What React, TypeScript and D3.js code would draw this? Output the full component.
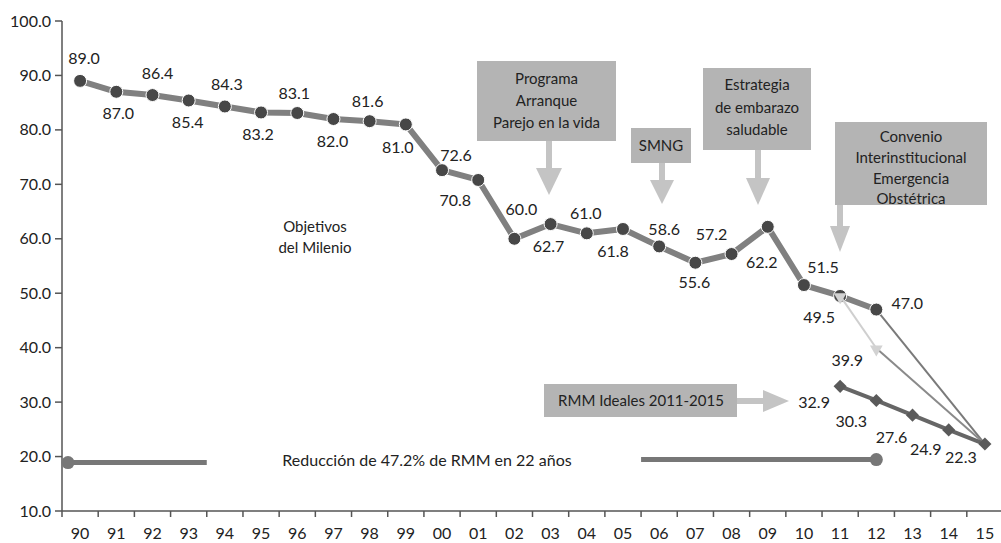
import * as d3 from "d3";
import React, { useEffect, useRef } from "react";

// categories (years 1990-2015)
const years = [
  "90", "91", "92", "93", "94", "95", "96", "97", "98", "99", "00", "01", "02",
  "03", "04", "05", "06", "07", "08", "09", "10", "11", "12", "13", "14", "15",
];
const yTicks = [10, 20, 30, 40, 50, 60, 70, 80, 90, 100];

// observed RMM 1990-2012
const rmmYears = years.slice(0, 23);
const rmmValues = [
  89.0, 87.0, 86.4, 85.4, 84.3, 83.2, 83.1, 82.0, 81.6, 81.0, 72.6, 70.8, 60.0,
  62.7, 61.0, 61.8, 58.6, 55.6, 57.2, 62.2, 51.5, 49.5, 47.0,
];

// ideal RMM 2011-2015
const idealYears = ["11", "12", "13", "14", "15"];
const idealValues = [32.9, 30.3, 27.6, 24.9, 22.3];

// projections to 2015
const trendYears = ["12", "15"];
const trendValues = [47.0, 22.3];
const altYears = ["11", "12"];
const altValues = [49.5, 39.9];
const altTailYears = ["12", "15"];
const altTailValues = [39.9, 22.3];

// label nudges (dx, dy) for the observed series
const rmmLabelOffsets: [number, number][] = [
  [4, -22], [2, 22], [5, -22], [-1, 22], [2, -22], [-3, 22], [-3, -20],
  [-1, 22], [-2, -20], [-8, 23], [14, -15], [-23, 20], [7, -29], [-2, 22],
  [-1, -20], [-10, 22], [5, -17], [-1, 20], [-20, -20], [-6, 36], [19, -18],
  [-21, 21], [31, -6],
];
const idealLabelOffsets: [number, number][] = [
  [-26, 16], [-25, 21], [-21, 22], [-23, 20], [-24, 13],
];

const FONT = "Lato, 'Open Sans', sans-serif";
const TEXT = "#222";
const BOX = "#b4b4b4";
const ARROW = "#c4c4c4";

type Callout = {
  lines: string[];
  box: [number, number, number, number];
  lineY: number[];
  arrow: { x: number; from: number; headStart: number; tip: number; half: number };
};

const callouts: Callout[] = [
  {
    lines: ["Programa", "Arranque", "Parejo en la vida"],
    box: [477, 61, 616, 141],
    lineY: [79, 101, 123],
    arrow: { x: 549, from: 141, headStart: 168, tip: 195, half: 13 },
  },
  {
    lines: ["SMNG"],
    box: [631, 128, 691, 163],
    lineY: [146],
    arrow: { x: 662, from: 163, headStart: 180, tip: 204, half: 12 },
  },
  {
    lines: ["Estrategia", "de embarazo", "saludable"],
    box: [703, 68, 811, 150],
    lineY: [85, 108, 130],
    arrow: { x: 758, from: 150, headStart: 178, tip: 205, half: 12 },
  },
  {
    lines: ["Convenio", "Interinstitucional", "Emergencia", "Obstétrica"],
    box: [835, 122, 987, 205],
    lineY: [137, 158, 179, 199],
    arrow: { x: 840, from: 205, headStart: 226, tip: 252, half: 10 },
  },
];

const App = () => {
  const svgRef = useRef<SVGSVGElement>(null);

  useEffect(() => {
    const svg = d3.select(svgRef.current);
    svg.selectAll("*").remove();

    const x = d3.scaleBand().domain(years).range([62, 1003]);
    const cx = (yr: string) => (x(yr) as number) + x.bandwidth() / 2;
    const y = d3.scaleLinear().domain([10, 100]).range([511, 21]);
    const [x0] = x.range();

    const root = svg.append("g").style("font-family", FONT);

    // axes
    root.append("line")
      .attr("x1", x0).attr("x2", x0).attr("y1", y(100)).attr("y2", y(10))
      .attr("stroke", "#555").attr("stroke-width", 1.5);
    root.append("line")
      .attr("x1", x0).attr("x2", 1003).attr("y1", y(10)).attr("y2", y(10))
      .attr("stroke", "#555").attr("stroke-width", 1.5);

    root.selectAll(".ytick")
      .data(yTicks)
      .enter()
      .append("line")
      .attr("x1", x0 - 7).attr("x2", x0)
      .attr("y1", (d) => y(d)).attr("y2", (d) => y(d))
      .attr("stroke", "#555").attr("stroke-width", 1.5);
    root.selectAll(".ylab")
      .data(yTicks)
      .enter()
      .append("text")
      .attr("x", x0 - 11)
      .attr("y", (d) => y(d))
      .attr("dy", "0.35em")
      .attr("text-anchor", "end")
      .style("font-size", "16px")
      .style("fill", TEXT)
      .text((d) => d.toFixed(1));

    const bounds = years.map((yr) => x(yr) as number).concat([1003]);
    root.selectAll(".xtick")
      .data(bounds)
      .enter()
      .append("line")
      .attr("x1", (d) => d).attr("x2", (d) => d)
      .attr("y1", y(10)).attr("y2", y(10) + 6)
      .attr("stroke", "#555").attr("stroke-width", 1.5);
    root.selectAll(".xlab")
      .data(years)
      .enter()
      .append("text")
      .attr("x", (d) => cx(d))
      .attr("y", 533)
      .attr("dy", "0.35em")
      .attr("text-anchor", "middle")
      .style("font-size", "16px")
      .style("fill", TEXT)
      .text((d) => d);

    // callouts
    callouts.forEach((c) => {
      const [bx0, by0, bx1, by1] = c.box;
      const a = c.arrow;
      root.append("rect")
        .attr("x", a.x - 3).attr("y", a.from)
        .attr("width", 6).attr("height", a.headStart - a.from + 1)
        .attr("fill", ARROW);
      root.append("path")
        .attr("d", `M${a.x - a.half},${a.headStart}L${a.x + a.half},${a.headStart}L${a.x},${a.tip}Z`)
        .attr("fill", ARROW);
      root.append("rect")
        .attr("x", bx0).attr("y", by0)
        .attr("width", bx1 - bx0).attr("height", by1 - by0)
        .attr("fill", BOX);
      c.lines.forEach((t, i) => {
        root.append("text")
          .attr("x", (bx0 + bx1) / 2)
          .attr("y", c.lineY[i])
          .attr("dy", "0.35em")
          .attr("text-anchor", "middle")
          .style("font-size", "15px")
          .style("fill", TEXT)
          .text(t);
      });
    });

    // RMM ideales box with horizontal arrow
    root.append("rect")
      .attr("x", 737).attr("y", 398).attr("width", 27).attr("height", 6)
      .attr("fill", ARROW);
    root.append("path")
      .attr("d", "M763,390L763,412L789,401Z")
      .attr("fill", ARROW);
    root.append("rect")
      .attr("x", 544).attr("y", 384).attr("width", 193).attr("height", 33)
      .attr("fill", BOX);
    root.append("text")
      .attr("x", 641).attr("y", 401).attr("dy", "0.35em")
      .attr("text-anchor", "middle")
      .style("font-size", "15px")
      .style("fill", TEXT)
      .text("RMM Ideales 2011-2015");

    // free text
    root.append("text")
      .attr("x", 315).attr("y", 227).attr("dy", "0.35em")
      .attr("text-anchor", "middle")
      .style("font-size", "15px").style("fill", TEXT)
      .text("Objetivos");
    root.append("text")
      .attr("x", 315).attr("y", 248).attr("dy", "0.35em")
      .attr("text-anchor", "middle")
      .style("font-size", "15px").style("fill", TEXT)
      .text("del Milenio");

    // reduction bracket
    const redY = y(18.9);
    root.append("line")
      .attr("x1", x0 + 6).attr("x2", x("94") as number)
      .attr("y1", redY).attr("y2", redY)
      .attr("stroke", "#777").attr("stroke-width", 5);
    root.append("circle")
      .attr("cx", x0 + 6).attr("cy", redY).attr("r", 6.5).attr("fill", "#777");
    root.append("line")
      .attr("x1", x("06") as number).attr("x2", cx("12"))
      .attr("y1", redY - 3).attr("y2", redY - 3)
      .attr("stroke", "#777").attr("stroke-width", 5);
    root.append("circle")
      .attr("cx", cx("12")).attr("cy", redY - 3).attr("r", 6.5).attr("fill", "#777");
    root.append("text")
      .attr("x", 427).attr("y", 460).attr("dy", "0.35em")
      .attr("text-anchor", "middle")
      .style("font-size", "16px").style("fill", TEXT)
      .text("Reducción de 47.2% de RMM en 22 años");

    const line = d3.line<[string, number]>()
      .x((d) => cx(d[0]))
      .y((d) => y(d[1]));

    // projections
    root.append("path")
      .datum(d3.zip(trendYears, trendValues) as [string, number][])
      .attr("d", line)
      .attr("fill", "none").attr("stroke", "#7a7a7a").attr("stroke-width", 2);
    root.append("path")
      .datum(d3.zip(altTailYears, altTailValues) as [string, number][])
      .attr("d", line)
      .attr("fill", "none").attr("stroke", "#8a8a8a").attr("stroke-width", 2);

    // ideal series
    const idealData = d3.zip(idealYears, idealValues) as [string, number][];
    root.append("path")
      .datum(idealData)
      .attr("d", line)
      .attr("fill", "none").attr("stroke", "#666").attr("stroke-width", 4);
    root.selectAll(".diamond")
      .data(idealData)
      .enter()
      .append("path")
      .attr("d", d3.symbol().type(d3.symbolDiamond2).size(110)())
      .attr("transform", (d) => `translate(${cx(d[0])},${y(d[1])}) rotate(0)`)
      .attr("fill", "#5a5a5a");
    root.selectAll(".ideal-label")
      .data(idealData)
      .enter()
      .append("text")
      .attr("x", (d, i) => cx(d[0]) + idealLabelOffsets[i][0])
      .attr("y", (d, i) => y(d[1]) + idealLabelOffsets[i][1])
      .attr("dy", "0.35em")
      .attr("text-anchor", "middle")
      .style("font-size", "16px").style("fill", TEXT)
      .text((d) => d[1].toFixed(1));

    // observed series
    const rmmData = d3.zip(rmmYears, rmmValues) as [string, number][];
    root.append("path")
      .datum(rmmData)
      .attr("d", line)
      .attr("fill", "none").attr("stroke", "#808080").attr("stroke-width", 6)
      .attr("stroke-linejoin", "round");
    root.selectAll(".dot")
      .data(rmmData)
      .enter()
      .append("circle")
      .attr("cx", (d) => cx(d[0]))
      .attr("cy", (d) => y(d[1]))
      .attr("r", 6.5)
      .attr("fill", "#474747")
      .attr("stroke", "#fff")
      .attr("stroke-width", 1);
    root.selectAll(".rmm-label")
      .data(rmmData)
      .enter()
      .append("text")
      .attr("x", (d, i) => cx(d[0]) + rmmLabelOffsets[i][0])
      .attr("y", (d, i) => y(d[1]) + rmmLabelOffsets[i][1])
      .attr("dy", "0.35em")
      .attr("text-anchor", "middle")
      .style("font-size", "16px").style("fill", TEXT)
      .text((d) => d[1].toFixed(1));

    // light alternative projection (on top)
    const altData = d3.zip(altYears, altValues) as [string, number][];
    root.append("path")
      .datum(altData)
      .attr("d", line)
      .attr("fill", "none").attr("stroke", "#cfcfcf").attr("stroke-width", 2);
    root.selectAll(".tri")
      .data(altData)
      .enter()
      .append("path")
      .attr("d", d3.symbol().type(d3.symbolTriangle).size(70)())
      .attr("transform", (d) => `translate(${cx(d[0])},${y(d[1]) + 1}) rotate(180)`)
      .attr("fill", "#d2d2d2");
    root.append("text")
      .attr("x", cx("12") - 29)
      .attr("y", y(39.9) + 12)
      .attr("dy", "0.35em")
      .attr("text-anchor", "middle")
      .style("font-size", "16px").style("fill", TEXT)
      .text(altValues[1].toFixed(1));
  }, []);

  return (
    <svg
      ref={svgRef}
      width={1001}
      height={543}
      style={{ position: "absolute", left: 0, top: 0, background: "#fff" }}
    ></svg>
  );
};

export default App;
